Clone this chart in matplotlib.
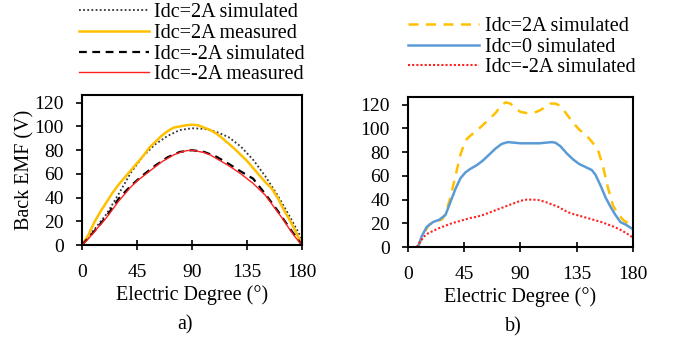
import matplotlib.pyplot as plt

plt.rcParams['font.family'] = ['Liberation Serif', 'DejaVu Serif']

# a) back EMF with DC bias, simulated vs measured
deg_a_sim = [0, 10, 20, 30, 40, 50, 60, 70, 80, 90, 100, 110, 120, 130, 140, 150, 160, 170, 180]
emf_p2_sim = [0, 13, 26, 43, 61, 75, 85, 92, 97, 98.5, 98, 95.5, 91, 83, 72, 58, 42, 24, 5]
emf_n2_sim = [0, 11.5, 24, 39, 50, 59, 67, 74, 78.5, 80, 78.5, 74.5, 68.5, 62, 56, 43, 29, 14, 0]

deg_a_meas = [0, 5, 10, 15, 20, 25, 30, 35, 40, 45, 50, 55, 60, 65, 70, 75, 80, 85, 90,
              95, 100, 105, 110, 115, 120, 125, 130, 135, 140, 145, 150, 155, 160, 165, 170, 175, 180]
emf_p2_meas = [0, 8, 19, 28, 36, 44, 51, 57, 63, 69, 75, 82, 87, 92, 96, 99, 100, 101, 101.5,
               101, 99, 97, 94, 90, 85.5, 81, 76, 71, 65, 59, 53, 48, 40, 30, 21, 11, 0]
emf_n2_meas = [0, 5, 11, 17, 23, 30, 37, 43, 49, 54, 58, 62, 66, 70, 73, 76, 78, 79.5, 80,
               79, 78, 76, 73, 70, 67, 63.5, 60, 56, 52, 47, 42, 35, 28, 21, 13, 6, 0]

# b) simulated back EMF for three DC currents
deg_b_p2 = [8, 13, 17, 22, 27, 30, 34, 38, 42, 46, 50, 55, 60, 65, 70, 75, 78, 82, 86, 90,
            95, 100, 105, 110, 114, 118, 122, 127, 132, 137, 142, 147, 152, 156, 160, 164, 168, 172, 176, 180]
emf_b_p2 = [0, 12, 19, 22, 23, 28, 42, 60, 78, 90, 94, 98, 103, 108, 113, 120, 122, 121, 117, 114,
            113, 113, 115, 118, 121, 121, 119, 112, 105, 99, 95, 89, 82, 68, 50, 35, 28, 23, 20, 18]

deg_b_0 = [8, 11, 15, 20, 25, 30, 34, 38, 42, 46, 50, 55, 60, 65, 70, 75, 80, 85, 90, 95,
           100, 105, 110, 115, 118, 122, 127, 132, 137, 142, 147, 150, 154, 158, 162, 166, 170, 174, 177, 180]
emf_b_0 = [0, 9, 17, 21, 23, 27, 38, 49, 58, 63, 66, 69, 73, 78, 83, 87, 88.5, 88, 87.5, 87.5,
           87.5, 87.5, 88, 88.5, 88, 85, 79, 74, 70, 67.5, 65, 61, 52, 42, 34, 27, 21, 19, 17, 15]

deg_b_n2 = [7, 10, 13, 16, 20, 25, 30, 35, 40, 45, 50, 55, 60, 65, 70, 75, 80, 85, 90, 95,
            100, 105, 110, 115, 120, 125, 130, 135, 140, 145, 150, 155, 160, 165, 170, 175, 180]
emf_b_n2 = [0, 5, 9, 11.5, 13.5, 16, 18, 20, 21.5, 23, 24.5, 25.5, 27, 29, 31, 33, 35, 37, 39, 40,
            40, 39.5, 38, 36, 34, 31, 28.5, 27, 25.5, 24, 22.5, 21, 19, 17, 14.5, 11.5, 8]

xticks = [0, 45, 90, 135, 180]
yticks = [0, 20, 40, 60, 80, 100, 120]

gold = '#FFC000'
blue = '#5B9BD5'
red = '#FF2020'

fig = plt.figure(figsize=(6.73, 3.4), dpi=100)
ax1 = fig.add_axes([0.1218, 0.2794, 0.3269, 0.441])
ax2 = fig.add_axes([0.6062, 0.2735, 0.3343, 0.441])

l1, = ax1.plot(deg_a_sim, emf_p2_sim, color='#333333', lw=1.3, ls=(0, (1, 1.3)),
               label='Idc=2A simulated')
l2, = ax1.plot(deg_a_meas, emf_p2_meas, color=gold, lw=1.8, label='Idc=2A measured')
l3, = ax1.plot(deg_a_sim, emf_n2_sim, color='black', lw=1.6, ls=(0, (3.5, 2.5)),
               label='Idc=-2A simulated')
l4, = ax1.plot(deg_a_meas, emf_n2_meas, color=red, lw=1.0, label='Idc=-2A measured')
ax1.set_ylabel('Back EMF (V)', fontsize=14.5, labelpad=0)

m1, = ax2.plot(deg_b_p2, emf_b_p2, color=gold, lw=1.8, ls=(0, (4, 3)), label='Idc=2A simulated')
m2, = ax2.plot(deg_b_0, emf_b_0, color=blue, lw=1.8, label='Idc=0 simulated')
m3, = ax2.plot(deg_b_n2, emf_b_n2, color=red, lw=1.5, ls=(0, (1, 1)), label='Idc=-2A simulated')

for ax, tag in ((ax1, 'a)'), (ax2, 'b)')):
    ax.set_xlim(0, 180)
    ax.set_ylim(0, 126.5)
    ax.set_xticks(xticks)
    ax.set_yticks(yticks)
    ax.tick_params(axis='x', direction='inout', length=7, width=1.2, labelsize=14, pad=10)
    ax.tick_params(axis='y', direction='out', length=4, width=1.2, labelsize=14, pad=9)
    for s in ax.spines.values():
        s.set_linewidth(1.5)
    ax.set_xlabel('Electric Degree (°)', fontsize=14.5, labelpad=3)
    ax.text(0.47, -0.53, tag, transform=ax.transAxes, ha='center', va='center', fontsize=14.5)

fig.legend(handles=[l1, l2, l3, l4], loc='upper left', bbox_to_anchor=(0.096, 1.032),
           frameon=False, fontsize=14.5, handlelength=3.5, handletextpad=0.25,
           labelspacing=0.08, borderpad=0.2)
fig.legend(handles=[m1, m2, m3], loc='upper left', bbox_to_anchor=(0.586, 0.992),
           frameon=False, fontsize=14.5, handlelength=3.5, handletextpad=0.3,
           labelspacing=0.08, borderpad=0.2)

fig.savefig('out.png', dpi=100)
